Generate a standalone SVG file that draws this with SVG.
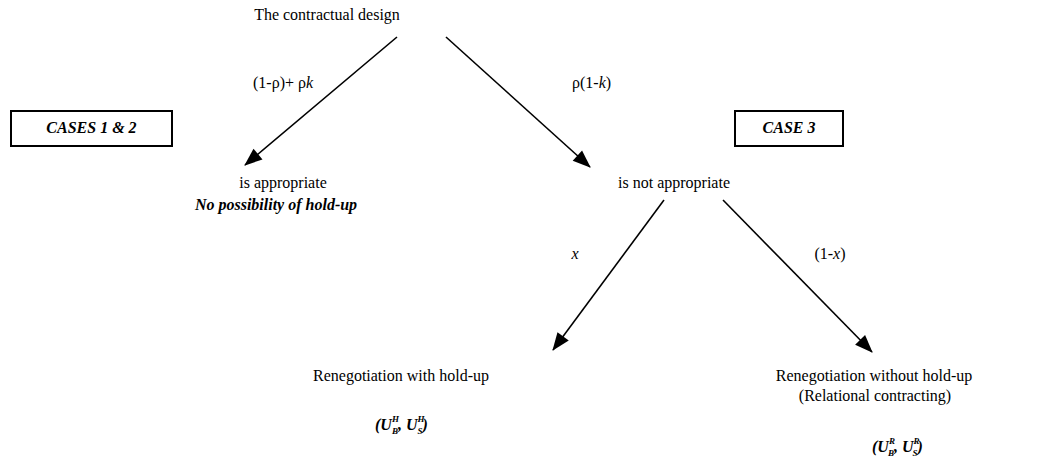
<svg xmlns="http://www.w3.org/2000/svg" width="1056" height="470" viewBox="0 0 1056 470">
<style>
.t{font-family:"Liberation Serif","Times New Roman","DejaVu Serif",serif;font-size:16px;fill:#000}
.bi{font-weight:bold;font-style:italic}
.i{font-style:italic}
.box{fill:#fff;stroke:#000;stroke-width:2}
.c{stroke:#000;stroke-width:1.6;fill:none;marker-end:url(#ah)}
.m{font-family:"Liberation Serif","Times New Roman","DejaVu Serif",serif;font-style:italic;font-weight:bold;font-size:16px;fill:#000}
.s{font-size:9px}
</style>
<defs>
<marker id="ah" markerUnits="userSpaceOnUse" markerWidth="18" markerHeight="14" refX="17" refY="7" orient="auto" overflow="visible">
<path d="M0,0 L18,7 L0,14 Z" fill="#000"/>
</marker>
</defs>
<rect width="1056" height="470" fill="#fff"/>
<g id="connectors">
<line class="c" x1="397" y1="37" x2="245" y2="165"/>
<line class="c" x1="446" y1="37" x2="590" y2="167"/>
<line class="c" x1="664" y1="200" x2="553" y2="350"/>
<line class="c" x1="723" y1="200" x2="872" y2="352"/>
</g>
<g id="root"><text class="t" x="327" y="20" text-anchor="middle">The contractual design</text></g>
<g id="label-left"><text class="t" x="253" y="88">(1-ρ)+ ρ<tspan class="i">k</tspan></text></g>
<g id="label-right"><text class="t" x="572" y="88">ρ(1-<tspan class="i">k</tspan>)</text></g>
<g id="case12"><rect class="box" x="11" y="111" width="161" height="35"/><text class="t bi" x="91.5" y="133" text-anchor="middle" font-size="13">CASES 1 &amp; 2</text></g>
<g id="case3"><rect class="box" x="735" y="111" width="108" height="35"/><text class="t bi" x="789" y="133" text-anchor="middle" font-size="13">CASE 3</text></g>
<g id="appropriate"><text class="t" x="283" y="188" text-anchor="middle">is appropriate</text><text class="t bi" x="276" y="210" text-anchor="middle">No possibility of hold-up</text></g>
<g id="not-appropriate"><text class="t" x="674" y="188" text-anchor="middle">is not appropriate</text></g>
<g id="label-x"><text class="t i" x="575" y="259" text-anchor="middle">x</text></g>
<g id="label-1x"><text class="t" x="830" y="259" text-anchor="middle">(1-<tspan class="i">x</tspan>)</text></g>
<g id="holdup"><text class="t" x="401" y="381" text-anchor="middle">Renegotiation with hold-up</text>
<text class="m" x="375" y="430">(U<tspan class="s" dy="-8">H</tspan><tspan class="s" dx="-7" dy="12">B</tspan><tspan dy="-4">, U</tspan><tspan class="s" dy="-8">H</tspan><tspan class="s" dx="-7" dy="12">S</tspan><tspan dy="-4">)</tspan></text></g>
<g id="noholdup"><text class="t" x="874" y="381" text-anchor="middle">Renegotiation without hold-up</text><text class="t" x="875" y="401" text-anchor="middle">(Relational contracting)</text>
<text class="m" x="872" y="452">(U<tspan class="s" dy="-8">R</tspan><tspan class="s" dx="-7" dy="12">B</tspan><tspan dy="-4">, U</tspan><tspan class="s" dy="-8">R</tspan><tspan class="s" dx="-7" dy="12">S</tspan><tspan dy="-4">)</tspan></text></g>
</svg>
